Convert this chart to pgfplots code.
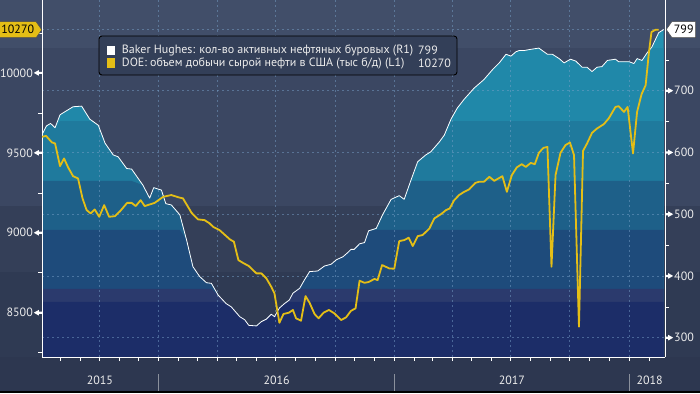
\documentclass[border=0pt]{standalone}
\usepackage{fontspec}
\setmainfont{PT Sans}
\usepackage{pgfplots}
\usepackage{pgfplotstable}
\pgfplotsset{compat=1.18}
\usetikzlibrary{shapes.symbols}

\definecolor{bgA}{HTML}{414E69}
\definecolor{bgB}{HTML}{3B4762}
\definecolor{bgC}{HTML}{343F58}
\definecolor{bgD}{HTML}{2F3A53}
\definecolor{bgE}{HTML}{2D3750}
\definecolor{arA}{HTML}{2391B1}
\definecolor{arB}{HTML}{2088A9}
\definecolor{arC}{HTML}{1F7A9D}
\definecolor{arD}{HTML}{1E6089}
\definecolor{arE}{HTML}{1E4B7B}
\definecolor{arF}{HTML}{2B3A6D}
\definecolor{arG}{HTML}{1C2D68}
\definecolor{gold}{HTML}{E4BE16}
\definecolor{gridc}{RGB}{120,160,200}
\definecolor{legbg}{HTML}{333F58}
\definecolor{txt}{HTML}{ECECEC}
\definecolor{sepc}{HTML}{8A909C}

\newcommand{\lw}{\kern1pt\tikz[baseline=-0.35em]\fill[white] (0,0)--(5pt,2.8pt)--(5pt,1.1pt)--(8pt,1.1pt)--(8pt,-1.1pt)--(5pt,-1.1pt)--(5pt,-2.8pt)--cycle;}
\newcommand{\rw}{\tikz[baseline=-0.35em]\fill[white] (8pt,0)--(3pt,2.8pt)--(3pt,1.1pt)--(0pt,1.1pt)--(0pt,-1.1pt)--(3pt,-1.1pt)--(3pt,-2.8pt)--cycle;\kern1pt}
\newcommand{\tfont}{\fontsize{12}{14}\selectfont}
\newcommand{\lfont}{\fontsize{12}{13}\selectfont}

% Baker Hughes oil rig count, weekly index from early July 2015
\pgfplotstableread{
w r
0 629
1.0 643
1.9 647
2.9 640
4.0 661
5.1 666
6.9 674
8.8 675
10.6 654
12.5 644
14.0 615
15.8 596
16.9 593
18.8 574
19.9 573
22.4 547
23.9 526
24.8 543
26.5 539
27.5 517
28.7 515
30.6 499
32.1 458
33.5 415
35.0 399
36.5 389
37.6 388
39.1 369
40.9 355
42.0 350
43.9 334
45.0 329
45.9 320
47.6 319
48.7 326
49.8 330
50.9 338
51.6 334
52.7 348
53.8 355
54.9 361
55.7 372
57.2 380
58.3 394
59.4 407
61.2 408
62.7 416
64.2 419
65.3 426
66.8 431
67.9 438
68.6 443
69.3 443
70.5 452
71.6 454
72.5 473
74.2 477
75.6 499
77.5 524
79.3 530
80.4 524
81.9 555
83.4 585
85.2 596
86.3 601
88.2 617
89.3 628
90.8 654
92.2 672
93.7 686
95.9 704
98.1 718
100.0 734
101.5 745
103.0 759
104.1 756
105.2 763
105.9 765
107.0 765
108.5 767
110.3 769
112.2 759
113.3 759
114.8 752
115.9 745
117.3 751
118.5 748
119.9 738
121.0 738
122.1 731
123.2 738
124.3 739
125.5 749
127.3 751
128.0 747
130.3 747
131.4 744
132.1 752
133.2 749
134.3 761
135.4 771
136.9 794
138.0 799
}\rigs

% DOE US crude oil production, thousand b/d
\pgfplotstableread{
w p
0 9600
0.9 9606
2.2 9565
2.9 9559
4.0 9417
4.9 9465
5.8 9409
6.9 9354
8.0 9340
9.0 9215
9.9 9142
10.8 9121
11.7 9146
12.7 9100
13.8 9173
14.9 9100
16.2 9104
17.4 9137
18.9 9187
19.9 9187
20.8 9167
21.9 9204
22.8 9167
25.0 9187
26.9 9225
28.7 9236
30.4 9221
31.3 9215
33.2 9125
34.6 9084
36.1 9079
37.2 9059
38.0 9037
39.4 9017
41.7 8959
42.6 8944
43.6 8829
44.6 8812
45.9 8792
47.6 8746
48.7 8746
49.8 8715
50.9 8662
51.6 8621
52.1 8537
52.7 8437
53.6 8492
54.8 8500
55.7 8517
56.4 8465
57.5 8450
58.5 8604
59.4 8562
60.5 8492
61.4 8465
62.5 8500
63.7 8517
64.9 8496
66.4 8454
67.5 8471
68.6 8512
69.6 8527
70.5 8700
71.6 8687
72.5 8692
73.8 8711
74.5 8704
75.5 8798
77.1 8777
78.2 8775
79.3 8948
80.4 8954
81.4 8969
82.3 8917
83.4 8979
84.5 8986
86.0 9027
87.1 9090
88.6 9117
89.7 9142
90.5 9152
91.5 9204
92.6 9236
93.7 9256
94.8 9271
96.2 9312
97.0 9319
98.1 9319
99.3 9350
100.4 9325
102.2 9354
103.2 9256
104.3 9361
105.4 9409
106.5 9429
107.4 9412
108.5 9437
109.4 9429
110.3 9500
111.3 9531
112.2 9537
113.1 8787
114.0 9361
115.1 9500
116.2 9548
117.2 9565
118.1 9486
119.2 8412
120.1 9512
121.0 9559
122.1 9625
123.2 9652
124.7 9679
125.8 9715
127.3 9787
128.0 9792
129.2 9756
130.0 9787
131.2 9496
132.1 9756
133.1 9867
134.0 9923
134.7 10121
135.3 10256
136.2 10270
136.9 10270
}\prod

\begin{document}
\begin{tikzpicture}
\useasboundingbox (0,0) rectangle (700pt,393pt);
\fill[bgE] (0,0) rectangle (700pt,36pt);
\fill[bgD] (0,36pt) rectangle (700pt,121pt);
\fill[bgC] (0,121pt) rectangle (700pt,187pt);
\fill[bgB] (0,187pt) rectangle (700pt,345pt);
\fill[bgA] (0,345pt) rectangle (700pt,393pt);
\fill[black] (0,0) rectangle (700pt,2pt);

\pgfplotsset{
  every axis/.append style={
    at={(42pt,36pt)}, anchor=south west,
    scale only axis, width=623pt, height=357pt,
    xmin=0, xmax=138.3,
    clip mode=individual,
    scaled x ticks=false, scaled y ticks=false,
  }
}

% Axis A: rig count area (right axis), grid, x axis
\begin{axis}[
  ymin=268.7, ymax=846.9,
  axis x line*=bottom, axis y line*=right,
  axis line style={white, line width=0.8pt},
  axis on top,
  tick align=outside,
  major tick length=0pt, minor tick length=4pt,
  tick style={white, line width=0.6pt},
  xtick={12.71,25.86,38.86,51.86,65,78.14,91,104,117.14,130.29},
  xticklabels={},
  minor xtick={4,8.43,12.71,17.14,21.43,25.86,30.29,34.43,38.86,43.14,47.57,51.86,56.29,60.71,65,69.43,73.71,78.14,82.57,86.57,91,95.29,99.71,104,108.43,112.86,117.14,121.57,125.86,130.29,134.71},
  extra x ticks={12.85,52.1,104.3,134.9},
  extra x tick labels={2015,2016,2017,2018},
  extra x tick style={grid=none, tick label style={yshift=-19pt, inner sep=0pt}},
  xticklabel style={text=txt, font=\tfont},
  ytick={300,400,500,600,700},
  yticklabels={{\rw300},{\rw400},{\rw500},{\rw600},{\rw700}},
  minor ytick={350,450,550,650,750},
  extra y ticks={800}, extra y tick labels={},
  yticklabel style={text=txt, font=\tfont, inner sep=0pt},
  grid=major,
  major grid style={gridc, opacity=0.5, dash pattern=on 2pt off 3pt, line width=0.6pt},
]
\addplot[draw=none, fill=arA] table[x=w, y=r] {\rigs} \closedcycle;
\addplot[draw=none, fill=arB] table[x=w, y expr={min(\thisrow{r},769.1)}] {\rigs} \closedcycle;
\addplot[draw=none, fill=arC] table[x=w, y expr={min(\thisrow{r},650.9)}] {\rigs} \closedcycle;
\addplot[draw=none, fill=arD] table[x=w, y expr={min(\thisrow{r},553.8)}] {\rigs} \closedcycle;
\addplot[draw=none, fill=arE] table[x=w, y expr={min(\thisrow{r},474.4)}] {\rigs} \closedcycle;
\addplot[draw=none, fill=arF] table[x=w, y expr={min(\thisrow{r},378.9)}] {\rigs} \closedcycle;
\addplot[draw=none, fill=arG] table[x=w, y expr={min(\thisrow{r},357.9)}] {\rigs} \closedcycle;
\coordinate (lab799) at (axis cs:138.3,799);
\coordinate (ys1) at (axis cs:25.86,268.7);
\coordinate (ys2) at (axis cs:78.14,268.7);
\coordinate (ys3) at (axis cs:130.29,268.7);
\end{axis}

% Axis B: rig count line
\begin{axis}[ymin=268.7, ymax=846.9, hide axis]
\addplot[white, line width=0.8pt, line join=round] table[x=w, y=r] {\rigs};
\end{axis}

% Axis C: production (left axis)
\begin{axis}[
  ymin=8223, ymax=10456,
  axis x line=none, axis y line*=left,
  axis line style={white, line width=0.8pt},
  tick align=outside,
  major tick length=0pt, minor tick length=4pt,
  tick style={white, line width=0.6pt},
  ytick={8500,9000,9500,10000},
  yticklabels={{8500\lw},{9000\lw},{9500\lw},{10000\lw}},
  minor ytick={8250,8750,9250,9750,10250},
  yticklabel style={text=txt, font=\tfont, inner sep=0pt},
]
\addplot[gold, line width=1.8pt, line join=round] table[x=w, y=p] {\prod};
\coordinate (lab10270) at (axis cs:0,10270);
\end{axis}

\foreach \s in {ys1,ys2,ys3}{
  \draw[sepc, line width=0.8pt] (\s) ++(0,-17pt) -- ++(0,-17pt);
}

\node[signal, signal to=east, signal pointer angle=110, fill=gold, draw=black!70, line width=0.5pt,
  anchor=east, inner xsep=2pt, minimum height=16pt, text=black, font=\tfont] at (lab10270) {10270};
\node[signal, signal to=west, signal pointer angle=110, fill=white, draw=black!70, line width=0.5pt,
  anchor=west, inner xsep=2pt, minimum height=16pt, text=black, font=\tfont] at ([xshift=1pt]lab799) {799};

% legend
\draw[black, line width=0.9pt, fill=legbg, rounded corners=3pt] (99pt,357pt) rectangle (457pt,318pt);
\fill[white] (106.7pt,347.3pt) rectangle (115pt,338pt);
\fill[gold] (106.7pt,334.7pt) rectangle (115pt,325.3pt);
\node[anchor=west, inner sep=0pt, text=txt, font=\lfont] at (121.7pt,342.3pt) {Baker Hughes: кол-во активных нефтяных буровых (R1)};
\node[anchor=west, inner sep=0pt, text=txt, font=\lfont] at (418pt,342.3pt) {799};
\node[anchor=west, inner sep=0pt, text=txt, font=\lfont] at (121.7pt,329.7pt) {DOE: объем добычи сырой нефти в США (тыс б/д) (L1)};
\node[anchor=west, inner sep=0pt, text=txt, font=\lfont] at (418pt,329.7pt) {10270};
\end{tikzpicture}
\end{document}
